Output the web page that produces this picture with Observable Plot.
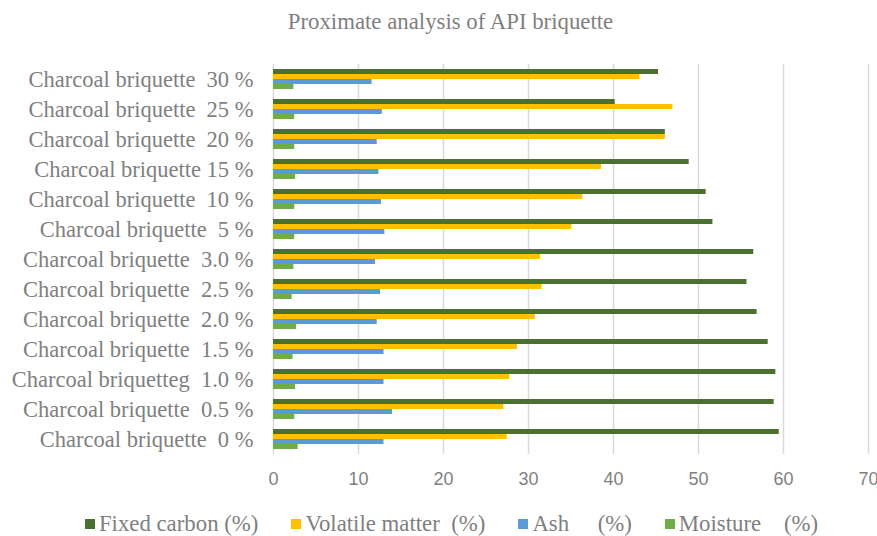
<!DOCTYPE html>
<html>
<head>
<meta charset="utf-8">
<script src="https://cdn.jsdelivr.net/npm/d3@7"></script>
<script src="https://cdn.jsdelivr.net/npm/@observablehq/plot@0.6"></script>
<style>
  html, body { margin: 0; padding: 0; background: #fff; }
  body { width: 877px; height: 536px; overflow: hidden; font-family: "Liberation Serif", "Times New Roman", serif; color: #7f7f7f; }
  #title { height: 44px; line-height: 44px; text-align: center; font-size: 22.8px; padding-left: 24px; box-sizing: border-box; }
  #chart svg text { white-space: pre; }
  #legend { height: 36px; display: flex; justify-content: center; align-items: center; padding-left: 26px; padding-top: 12px; box-sizing: border-box; font-size: 22.8px; gap: 33px; }
  .item { display: flex; align-items: center; white-space: pre; }
  .sw { width: 10px; height: 10px; margin-right: 4px; display: inline-block; }
</style>
</head>
<body>
<div id="title">Proximate analysis of API briquette</div>
<div id="chart"></div>
<div id="legend"></div>
<script>
const categories = [
  "Charcoal briquette  30 %", "Charcoal briquette  25 %", "Charcoal briquette  20 %",
  "Charcoal briquette 15 %", "Charcoal briquette  10 %", "Charcoal briquette  5 %",
  "Charcoal briquette  3.0 %", "Charcoal briquette  2.5 %", "Charcoal briquette  2.0 %",
  "Charcoal briquette  1.5 %", "Charcoal briquetteg  1.0 %", "Charcoal briquette  0.5 %",
  "Charcoal briquette  0 %"
];
const seriesNames = ["Fixed carbon (%)", "Volatile matter  (%)", "Ash     (%)", "Moisture    (%)"];
const seriesColors = ["#4b7130", "#ffc000", "#5b9bd5", "#70ad47"];
const fixedCarbon    = [45.3, 40.2, 46.1, 48.9, 50.9, 51.7, 56.5, 55.7, 56.9, 58.2, 59.1, 58.9, 59.5];
const volatileMatter = [43.1, 47.0, 46.1, 38.6, 36.4, 35.1, 31.4, 31.6, 30.8, 28.7, 27.8, 27.1, 27.5];
const ash            = [11.6, 12.8, 12.2, 12.4, 12.7, 13.1, 12.0, 12.6, 12.2, 13.0, 13.0, 14.0, 13.0];
const moisture       = [2.4, 2.5, 2.5, 2.6, 2.5, 2.5, 2.4, 2.2, 2.7, 2.3, 2.6, 2.5, 2.9];
const xTicks = [0, 10, 20, 30, 40, 50, 60, 70];

const seriesValues = [fixedCarbon, volatileMatter, ash, moisture];
const table = seriesNames.map((s, j) => categories.map((c, i) => ({category: c, series: s, value: seriesValues[j][i]})));

const width = 877, height = 456;
const marginTop = 20, marginBottom = 46;
const paddingInner = 1 / 3, paddingOuter = 1 / 6;
const plotH = height - marginTop - marginBottom;
const step = plotH / (categories.length - paddingInner + 2 * paddingOuter);
const bw = step * (1 - paddingInner);
const slot = bw / seriesNames.length;

const chart = Plot.plot({
  width, height,
  marginLeft: 273, marginRight: 9, marginTop, marginBottom,
  style: {fontFamily: "Liberation Serif, serif", fontSize: "22.5px", color: "#7f7f7f", background: "#fff"},
  x: {domain: [0, 70], ticks: xTicks, label: null},
  y: {domain: categories, paddingInner, paddingOuter, label: null},
  color: {domain: seriesNames, range: seriesColors},
  marks: [
    Plot.gridX(xTicks, {stroke: "#d9d9d9", strokeOpacity: 1, strokeWidth: 1.5}),
    ...table.map((rows, j) => Plot.barX(rows, {
      x: "value", y: "category", fill: "series",
      insetTop: j * slot, insetBottom: (seriesNames.length - 1 - j) * slot
    })),
    Plot.axisX(xTicks, {tickSize: 0, tickPadding: 18, fontFamily: "Liberation Sans, sans-serif", fontSize: 18, label: null}),
    Plot.axisY({tickSize: 0, tickPadding: 20, fontSize: 22.5, label: null})
  ]
});
document.getElementById("chart").appendChild(chart);

const legend = document.getElementById("legend");
seriesNames.forEach((s, j) => {
  const it = document.createElement("div");
  it.className = "item";
  const sw = document.createElement("span");
  sw.className = "sw";
  sw.style.background = seriesColors[j];
  const t = document.createElement("span");
  t.textContent = s;
  it.appendChild(sw); it.appendChild(t);
  legend.appendChild(it);
});
</script>
</body>
</html>
